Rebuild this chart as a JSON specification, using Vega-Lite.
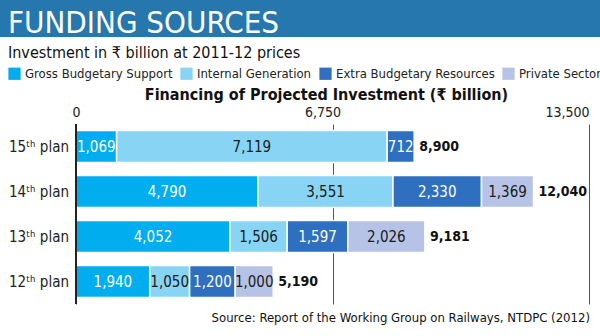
{
  "$schema": "https://vega.github.io/schema/vega-lite/v6.json",
  "padding": 0,
  "background": "white",
  "spacing": 6,
  "config": {
    "font": "DejaVu Sans Condensed, Roboto, sans-serif",
    "view": {"stroke": null}
  },
  "title": {
    "text": "Source: Report of the Working Group on Railways, NTDPC (2012)",
    "orient": "bottom",
    "anchor": "end",
    "fontSize": 13,
    "fontWeight": "normal",
    "color": "#111",
    "dx": -12,
    "offset": 7
  },
  "vconcat": [
    {
      "width": 600,
      "height": 37,
      "view": {"fill": "#2577ae", "stroke": null},
      "title": {
        "text": "FUNDING SOURCES",
        "anchor": "start",
        "frame": "group",
        "orient": "top",
        "offset": -40,
        "dx": 8,
        "fontSize": 31,
        "fontWeight": "normal",
        "color": "white"
      },
      "data": {"values": [{"t": ""}]},
      "mark": {"type": "text"},
      "encoding": {"text": {"field": "t"}}
    },
    {
      "width": 589,
      "height": 180,
      "title": {
        "text": "Investment in ₹ billion at  2011-12 prices",
        "anchor": "start",
        "frame": "group",
        "fontSize": 16,
        "fontWeight": "normal",
        "color": "#111",
        "dx": 8,
        "offset": 25
      },
      "data": {
        "values": [
          {"plan": "15ᵗʰ plan", "source": "Gross Budgetary Support", "k": 1, "value": 1069},
          {"plan": "15ᵗʰ plan", "source": "Internal Generation", "k": 2, "value": 7119},
          {"plan": "15ᵗʰ plan", "source": "Extra Budgetary Resources", "k": 3, "value": 712},
          {"plan": "14ᵗʰ plan", "source": "Gross Budgetary Support", "k": 1, "value": 4790},
          {"plan": "14ᵗʰ plan", "source": "Internal Generation", "k": 2, "value": 3551},
          {"plan": "14ᵗʰ plan", "source": "Extra Budgetary Resources", "k": 3, "value": 2330},
          {"plan": "14ᵗʰ plan", "source": "Private Sector", "k": 4, "value": 1369},
          {"plan": "13ᵗʰ plan", "source": "Gross Budgetary Support", "k": 1, "value": 4052},
          {"plan": "13ᵗʰ plan", "source": "Internal Generation", "k": 2, "value": 1506},
          {"plan": "13ᵗʰ plan", "source": "Extra Budgetary Resources", "k": 3, "value": 1597},
          {"plan": "13ᵗʰ plan", "source": "Private Sector", "k": 4, "value": 2026},
          {"plan": "12ᵗʰ plan", "source": "Gross Budgetary Support", "k": 1, "value": 1940},
          {"plan": "12ᵗʰ plan", "source": "Internal Generation", "k": 2, "value": 1050},
          {"plan": "12ᵗʰ plan", "source": "Extra Budgetary Resources", "k": 3, "value": 1200},
          {"plan": "12ᵗʰ plan", "source": "Private Sector", "k": 4, "value": 1000}
        ]
      },
      "encoding": {
        "y": {
          "field": "plan",
          "type": "nominal",
          "sort": ["15ᵗʰ plan", "14ᵗʰ plan", "13ᵗʰ plan", "12ᵗʰ plan"],
          "scale": {"paddingInner": 0.29, "paddingOuter": 0.145},
          "axis": null
        }
      },
      "layer": [
        {
          "mark": {"type": "bar", "stroke": "white", "strokeWidth": 1.5},
          "encoding": {
            "x": {
              "field": "value",
              "type": "quantitative",
              "stack": "zero",
              "scale": {"domain": [-2000, 13500], "nice": false, "zero": false},
              "axis": {
                "orient": "top",
                "values": [0, 6750, 13500],
                "labelExpr": "format(datum.value, ',')",
                "grid": true,
                "gridColor": "#555",
                "gridWidth": 1,
                "domain": false,
                "ticks": false,
                "labelFontSize": 14,
                "labelColor": "#222",
                "labelPadding": 5,
                "labelOffset": {"condition": {"test": "datum.value === 6750", "value": -10}, "value": 0},
                "labelAlign": {"condition": {"test": "datum.value === 13500", "value": "right"}, "value": "center"},
                "title": "Financing of Projected Investment (₹ billion)",
                "titleFontSize": 16,
                "titleFontWeight": "bold",
                "titleColor": "#111",
                "titlePadding": 3,
                "titleX": 326
              }
            },
            "color": {
              "field": "source",
              "type": "nominal",
              "scale": {
                "domain": ["Gross Budgetary Support", "Internal Generation", "Extra Budgetary Resources", "Private Sector"],
                "range": ["#00aeef", "#88d4f4", "#2f6fbf", "#b6c3e6"]
              },
              "legend": {
                "orient": "none",
                "legendX": 8,
                "legendY": 67,
                "direction": "horizontal",
                "title": null,
                "symbolType": "square",
                "symbolSize": 150,
                "symbolStrokeWidth": 0,
                "symbolOpacity": 1,
                "labelFontSize": 13,
                "labelColor": "#222",
                "labelOffset": 4,
                "columnPadding": 7
              }
            },
            "order": {"field": "k"}
          }
        },
        {
          "mark": {"type": "rule", "color": "#222", "strokeWidth": 2},
          "encoding": {"x": {"datum": 0}, "y": null}
        },
        {
          "transform": [
            {"stack": "value", "groupby": ["plan"], "sort": [{"field": "k"}], "as": ["v0", "v1"]},
            {"calculate": "(datum.v0 + datum.v1) / 2", "as": "mid"}
          ],
          "mark": {"type": "text", "fontSize": 15, "baseline": "middle"},
          "encoding": {
            "x": {"field": "mid", "type": "quantitative"},
            "text": {"field": "value", "type": "quantitative", "format": ","},
            "color": {
              "condition": {"test": "datum.k === 1 || datum.k === 3", "value": "white"},
              "value": "#1a1a1a"
            }
          }
        },
        {
          "transform": [{"aggregate": [{"op": "sum", "field": "value", "as": "total"}], "groupby": ["plan"]}],
          "mark": {"type": "text", "fontSize": 14, "fontWeight": "bold", "align": "left", "dx": 5, "baseline": "middle", "color": "#111"},
          "encoding": {
            "x": {"field": "total", "type": "quantitative"},
            "text": {"field": "total", "type": "quantitative", "format": ","}
          }
        },
        {
          "transform": [{"aggregate": [{"op": "count", "as": "n"}], "groupby": ["plan"]}],
          "mark": {"type": "text", "fontSize": 15, "align": "right", "dx": -7, "baseline": "middle", "color": "#222"},
          "encoding": {
            "x": {"datum": 0},
            "text": {"field": "plan", "type": "nominal"}
          }
        }
      ]
    }
  ]
}
